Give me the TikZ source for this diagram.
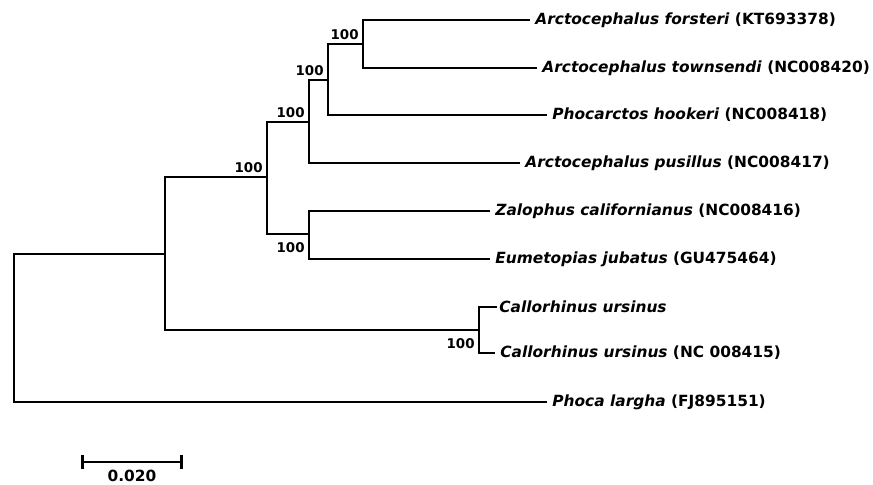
\documentclass[tikz,border=0pt]{standalone}
\usepackage{fontspec}
\setmainfont{DejaVu Sans}
\usetikzlibrary{arrows.meta, positioning, calc}
\tikzset{
    branch/.style={line width=1.3pt, black},
    taxon/.style={anchor=west, inner sep=2.5pt, font=\fontsize{7.7}{9}\selectfont\bfseries},
    boot/.style={inner sep=2pt, font=\fontsize{6.7}{8}\selectfont\bfseries},
}

\begin{document}
\begin{tikzpicture}[x=0.5pt, y=-0.5pt]
\useasboundingbox (0,0) rectangle (873,485);

% internal nodes
\coordinate (root) at (14,328);
\coordinate (n7) at (165,254);
\coordinate (n5) at (267,177);
\coordinate (n3) at (309,122);
\coordinate (n2) at (328,80);
\coordinate (n1) at (363,44);
\coordinate (n4) at (309,234);
\coordinate (n6) at (479,330);

% taxa
\node[taxon] (forsteri) at (530,20) {\textit{Arctocephalus forsteri} (KT693378)};
\node[taxon] (townsendi) at (537,68) {\textit{Arctocephalus townsendi} (NC008420)};
\node[taxon] (hookeri) at (547,115) {\textit{Phocarctos hookeri} (NC008418)};
\node[taxon] (pusillus) at (520,163) {\textit{Arctocephalus pusillus} (NC008417)};
\node[taxon] (zalophus) at (490,211) {\textit{Zalophus californianus} (NC008416)};
\node[taxon] (eumetopias) at (490,259) {\textit{Eumetopias jubatus} (GU475464)};
\node[taxon, inner sep=1pt] (callo) at (497,307) {\textit{Callorhinus ursinus}};
\node[taxon] (callonc) at (495,353) {\textit{Callorhinus ursinus} (NC 008415)};
\node[taxon] (phoca) at (547,402) {\textit{Phoca largha} (FJ895151)};

% branches
\draw[branch] (n1) |- (forsteri.west);
\draw[branch] (n1) |- (townsendi.west);
\draw[branch] (n2) |- (n1);
\draw[branch] (n2) |- (hookeri.west);
\draw[branch] (n3) |- (n2);
\draw[branch] (n3) |- (pusillus.west);
\draw[branch] (n4) |- (zalophus.west);
\draw[branch] (n4) |- (eumetopias.west);
\draw[branch] (n5) |- (n3);
\draw[branch] (n5) |- (n4);
\draw[branch] (n6) |- (callo.west);
\draw[branch] (n6) |- (callonc.west);
\draw[branch] (n7) |- (n5);
\draw[branch] (n7) |- (n6);
\draw[branch] (root) |- (n7);
\draw[branch] (root) |- (phoca.west);

% bootstrap values
\node[boot, anchor=south east] (b1) at (n1) {100};
\node[boot, anchor=south east] (b2) at (n2) {100};
\node[boot, anchor=south east] (b3) at (n3) {100};
\node[boot, anchor=south east] (b5) at (n5) {100};
\node[boot, anchor=north east, yshift=-2pt] (b4) at (n4) {100};
\node[boot, anchor=north east, yshift=-2pt] (b6) at (n6) {100};

% scale bar
\coordinate (sbl) at (81,462);
\coordinate (sbr) at (183,462);
\draw[branch, {Bar[width=7pt]}-{Bar[width=7pt]}] (sbl) -- (sbr);
\node[font=\fontsize{7.7}{9}\selectfont\bfseries, anchor=north, inner sep=0pt, yshift=-4pt] (sblabel) at ($(sbl)!0.5!(sbr)$) {0.020};
\end{tikzpicture}
\end{document}
